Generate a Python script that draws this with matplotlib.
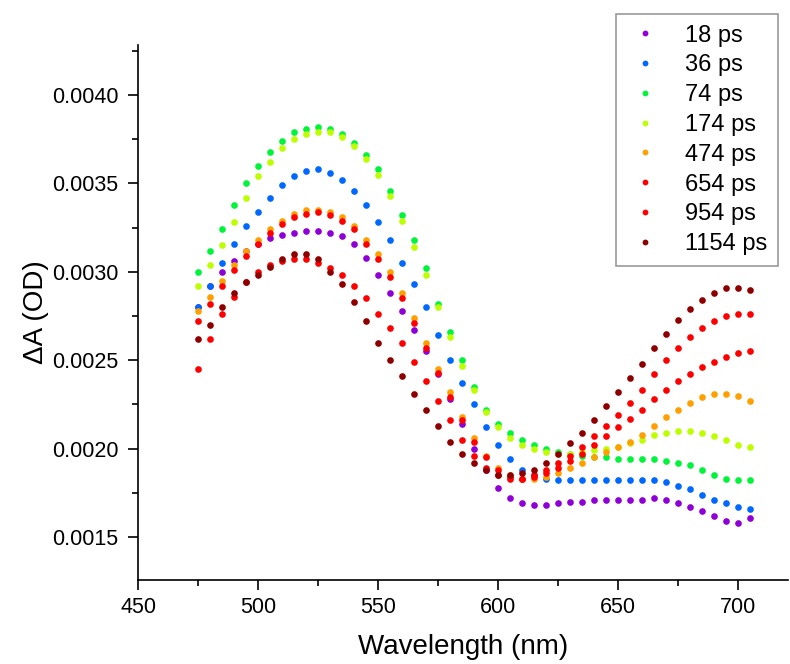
#!/usr/bin/env python3
"""Transient absorption spectra at several delay times (dA vs wavelength)."""
import matplotlib
matplotlib.use("Agg")
import matplotlib.pyplot as plt
from matplotlib.lines import Line2D
from matplotlib.ticker import MultipleLocator, FormatStrFormatter
import numpy as np

plt.rcParams["font.family"] = ["Liberation Sans", "DejaVu Sans"]

# ── data (dA in OD, every 5 nm) ─────────────────────────────────────────────
wavelength = [475, 480, 485, 490, 495, 500, 505, 510, 515, 520, 525, 530, 535,
              540, 545, 550, 555, 560, 565, 570, 575, 580, 585, 590, 595, 600,
              605, 610, 615, 620, 625, 630, 635, 640, 645, 650, 655, 660, 665,
              670, 675, 680, 685, 690, 695, 700, 705]

labels = ["18 ps", "36 ps", "74 ps", "174 ps", "474 ps", "654 ps", "954 ps", "1154 ps"]

dA_18 = [2.80, 2.92, 3.00, 3.06, 3.12, 3.16, 3.19, 3.21, 3.22, 3.23, 3.23, 3.22, 3.20,
         3.16, 3.08, 2.98, 2.88, 2.78, 2.67, 2.55, 2.42, 2.28, 2.14, 2.00, 1.88, 1.78,
         1.72, 1.69, 1.68, 1.68, 1.69, 1.70, 1.70, 1.71, 1.71, 1.71, 1.71, 1.71, 1.72,
         1.71, 1.69, 1.67, 1.65, 1.62, 1.59, 1.58, 1.61]
dA_36 = [2.80, 2.92, 3.05, 3.16, 3.26, 3.34, 3.42, 3.49, 3.54, 3.57, 3.58, 3.56, 3.52,
         3.46, 3.38, 3.28, 3.18, 3.05, 2.93, 2.80, 2.64, 2.50, 2.37, 2.25, 2.12, 2.02,
         1.94, 1.88, 1.85, 1.83, 1.82, 1.82, 1.82, 1.82, 1.82, 1.82, 1.82, 1.82, 1.82,
         1.81, 1.79, 1.77, 1.74, 1.71, 1.69, 1.67, 1.66]
dA_74 = [3.00, 3.12, 3.24, 3.38, 3.50, 3.60, 3.68, 3.74, 3.79, 3.81, 3.82, 3.81, 3.78,
         3.73, 3.66, 3.58, 3.46, 3.32, 3.18, 3.02, 2.82, 2.66, 2.50, 2.35, 2.22, 2.14,
         2.09, 2.05, 2.02, 2.00, 1.98, 1.97, 1.96, 1.95, 1.95, 1.94, 1.94, 1.94, 1.94,
         1.93, 1.92, 1.91, 1.88, 1.85, 1.83, 1.82, 1.82]
dA_174 = [2.92, 3.04, 3.15, 3.28, 3.42, 3.54, 3.62, 3.70, 3.75, 3.78, 3.79, 3.79, 3.76,
          3.71, 3.64, 3.55, 3.43, 3.29, 3.14, 2.98, 2.80, 2.63, 2.47, 2.33, 2.21, 2.12,
          2.06, 2.02, 2.00, 1.98, 1.97, 1.97, 1.98, 1.99, 2.00, 2.01, 2.03, 2.05, 2.08,
          2.09, 2.10, 2.10, 2.09, 2.07, 2.05, 2.02, 2.01]
dA_474 = [2.78, 2.86, 2.95, 3.04, 3.12, 3.18, 3.24, 3.29, 3.33, 3.35, 3.35, 3.34, 3.31,
          3.26, 3.18, 3.10, 3.00, 2.88, 2.74, 2.60, 2.45, 2.32, 2.18, 2.06, 1.96, 1.89,
          1.85, 1.83, 1.83, 1.84, 1.86, 1.89, 1.92, 1.95, 1.98, 2.01, 2.04, 2.08, 2.13,
          2.18, 2.22, 2.26, 2.29, 2.31, 2.31, 2.30, 2.27]
dA_654 = [2.72, 2.82, 2.92, 3.01, 3.09, 3.16, 3.22, 3.27, 3.31, 3.33, 3.34, 3.32, 3.29,
          3.24, 3.16, 3.07, 2.97, 2.85, 2.71, 2.57, 2.43, 2.29, 2.16, 2.04, 1.95, 1.88,
          1.84, 1.83, 1.84, 1.86, 1.89, 1.93, 1.97, 2.02, 2.07, 2.12, 2.17, 2.22, 2.28,
          2.33, 2.38, 2.42, 2.46, 2.49, 2.52, 2.54, 2.55]
dA_954 = [2.45, 2.62, 2.76, 2.86, 2.94, 3.00, 3.04, 3.06, 3.07, 3.07, 3.05, 3.02, 2.98,
          2.92, 2.85, 2.76, 2.68, 2.60, 2.49, 2.38, 2.27, 2.16, 2.05, 1.96, 1.89, 1.85,
          1.83, 1.83, 1.85, 1.88, 1.92, 1.96, 2.01, 2.07, 2.13, 2.19, 2.26, 2.33, 2.42,
          2.50, 2.57, 2.63, 2.68, 2.72, 2.75, 2.76, 2.76]
dA_1154 = [2.62, 2.70, 2.80, 2.88, 2.94, 2.98, 3.03, 3.07, 3.10, 3.10, 3.07, 3.00, 2.93,
           2.83, 2.72, 2.60, 2.50, 2.41, 2.31, 2.22, 2.13, 2.04, 1.97, 1.92, 1.88, 1.85,
           1.85, 1.86, 1.88, 1.92, 1.97, 2.03, 2.09, 2.16, 2.24, 2.32, 2.40, 2.48, 2.57,
           2.65, 2.73, 2.79, 2.84, 2.88, 2.91, 2.91, 2.90]

series = [dA_18, dA_36, dA_74, dA_174, dA_474, dA_654, dA_954, dA_1154]

# ── colours ──────────────────────────────────────────────────────────────────
colors = ["#8E00D8", "#0068FF", "#00F53A", "#BDFF00", "#FFA000",
          "#FF0000", "#FF0000", "#8E0000"]

# ── figure ───────────────────────────────────────────────────────────────────
fig = plt.figure(figsize=(7.9, 6.64), dpi=100)
ax = fig.add_axes([0.1747, 0.1265, 0.8228, 0.8057])

for vals, col in zip(series, colors):
    ax.plot(wavelength, np.array(vals) * 1e-3, linestyle="none", marker="o",
            markersize=4.8, markeredgewidth=0, color=col)

ax.set_xlim(450, 721)
ax.set_ylim(1.257e-3, 4.283e-3)

ax.xaxis.set_major_locator(MultipleLocator(50))
ax.xaxis.set_minor_locator(MultipleLocator(25))
ax.yaxis.set_major_locator(MultipleLocator(0.0005))
ax.yaxis.set_minor_locator(MultipleLocator(0.00025))
ax.yaxis.set_major_formatter(FormatStrFormatter("%.4f"))

for side in ("top", "right"):
    ax.spines[side].set_visible(False)
for side in ("left", "bottom"):
    ax.spines[side].set_linewidth(1.2)

ax.tick_params(which="major", direction="out", length=7, width=1.2, labelsize=15.5)
ax.tick_params(which="minor", direction="out", length=4.5, width=1.2)
ax.tick_params(axis="y", which="major", pad=7)
ax.tick_params(axis="x", which="major", pad=5)

ax.set_xlabel("Wavelength (nm)", fontsize=20, labelpad=12)
ax.set_ylabel("\u0394A (OD)", fontsize=20, labelpad=2)

# ── legend ───────────────────────────────────────────────────────────────────
handles = [Line2D([], [], linestyle="none", marker="o", markersize=4.2,
                  markeredgewidth=0, color=c, label=l)
           for c, l in zip(colors, labels)]
leg = fig.legend(handles=handles, loc="upper right",
                 bbox_to_anchor=(0.985, 0.979), fontsize=17,
                 frameon=True, fancybox=False, borderpad=0.45,
                 labelspacing=0.33, handlelength=1.6, handletextpad=0.9,
                 borderaxespad=0)
leg.get_frame().set_edgecolor("#808080")
leg.get_frame().set_linewidth(1.2)

fig.savefig("out.png", dpi=100)
